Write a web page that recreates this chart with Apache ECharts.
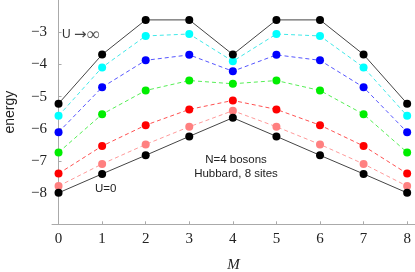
<!DOCTYPE html>
<html><head><meta charset="utf-8">
<script src="https://cdn.jsdelivr.net/npm/echarts@6/dist/echarts.min.js"></script>
<style>html,body{margin:0;padding:0;background:#fff}#c{width:415px;height:272px}</style>
</head><body><div id="c"></div>
<script>
const M = [0,1,2,3,4,5,6,7,8];
const xTicks = [0,1,2,3,4,5,6,7,8];
const yTicks = [-8,-7,-6,-5,-4,-3];
const uInf  = [-5.22,-3.69,-2.61,-2.61,-3.69,-2.61,-2.61,-3.69,-5.22];
const cyan  = [-5.60,-4.09,-3.11,-3.05,-3.90,-3.05,-3.11,-4.09,-5.60];
const blue  = [-6.11,-4.71,-3.87,-3.70,-4.21,-3.70,-3.87,-4.71,-6.11];
const green = [-6.74,-5.55,-4.81,-4.50,-4.60,-4.50,-4.81,-5.55,-6.74];
const red   = [-7.40,-6.54,-5.89,-5.40,-5.12,-5.40,-5.89,-6.54,-7.40];
const pink  = [-7.79,-7.10,-6.49,-5.94,-5.44,-5.94,-6.49,-7.10,-7.79];
const u0    = [-8.00,-7.41,-6.83,-6.24,-5.66,-6.24,-6.83,-7.41,-8.00];

const pairs = a => M.map((m,i)=>[m,a[i]]);
function ser(data, color, lineColor, dashed){
  return {type:'line', data:pairs(data), symbol:'circle', symbolSize:8,
    itemStyle:{color:color}, lineStyle:{color:lineColor, width:1, type: dashed?[4,3]:'solid'},
    emphasis:{disabled:true}, animation:false, z:dashed?2:3};
}
const minus = v => (v<0?'\u2212':'')+Math.abs(v);
const chart = echarts.init(document.getElementById('c'));
const txt = {fontFamily:'Liberation Sans', fontSize:11.5, fill:'#222'};
chart.setOption({
  animation:false,
  grid:{left:52, top:0, right:0, bottom:47.7, containLabel:false, outerBoundsMode:'none'},
  xAxis:{type:'value', min:-0.15, max:8.18, name:'M', nameLocation:'middle', nameGap:33,
    nameTextStyle:{fontFamily:'Liberation Serif', fontStyle:'italic', fontSize:15, color:'#222'},
    axisLine:{lineStyle:{color:'#aaa'}}, splitLine:{show:false},
    axisTick:{inside:true, length:3, lineStyle:{color:'#aaa'}, customValues:xTicks},
    axisLabel:{customValues:xTicks, margin:7, fontFamily:'Liberation Serif', fontSize:15, color:'#222', formatter:minus}},
  yAxis:{type:'value', min:-8.98, max:-1.99, name:'energy', nameLocation:'middle', nameGap:35, nameRotate:90,
    nameTextStyle:{fontFamily:'Liberation Sans', fontSize:14, color:'#222'},
    axisLine:{show:true, lineStyle:{color:'#aaa'}}, splitLine:{show:false},
    axisTick:{show:true, inside:true, length:3, lineStyle:{color:'#aaa'}, customValues:yTicks},
    axisLabel:{customValues:yTicks, margin:5, fontFamily:'Liberation Serif', fontSize:15, color:'#222', formatter:minus}},
  series:[
    ser(pink,'#ff8080','#ff9a9a',true),
    ser(red,'#ff0000','#ff5050',true),
    ser(green,'#00ee00','#55ee55',true),
    ser(blue,'#0000ff','#5555ff',true),
    ser(cyan,'#00ffff','#40e8e8',true),
    ser(u0,'#000000','#444444',false),
    ser(uInf,'#000000','#444444',false)
  ],
  graphic:[
    {type:'text', x:62, y:35, style:{text:'{u|U} {a|\u2192}{s|\u221e}', verticalAlign:'middle', fill:'#333',
      rich:{u:{fontFamily:'Liberation Sans', fontSize:12, fill:'#333'},
            a:{fontFamily:'DejaVu Sans', fontSize:15, fill:'#444'},
            s:{fontFamily:'Liberation Serif', fontSize:18, fill:'#555'}}}},
    {type:'text', x:95, y:189, style:Object.assign({}, txt, {text:'U=0', verticalAlign:'middle'})},
    {type:'text', x:236, y:160, style:Object.assign({}, txt, {text:'N=4 bosons', align:'center', verticalAlign:'middle'})},
    {type:'text', x:236, y:173.5, style:Object.assign({}, txt, {text:'Hubbard, 8 sites', align:'center', verticalAlign:'middle'})}
  ]
});
</script></body></html>
